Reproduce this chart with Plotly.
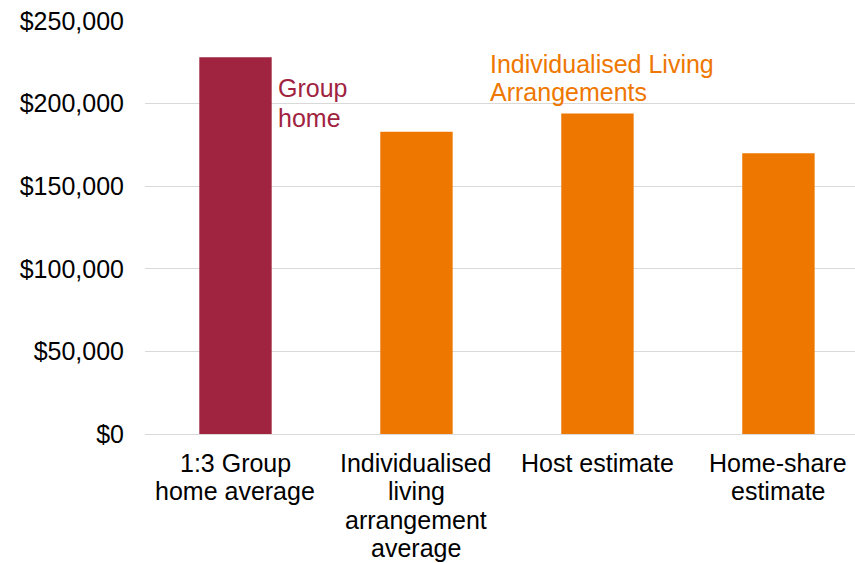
import plotly.graph_objects as go

# Annual cost per person by support model
categories = [
    "1:3 Group home average",
    "Individualised living arrangement average",
    "Host estimate",
    "Home-share estimate",
]
category_lines = [
    ["1:3 Group", "home average"],
    ["Individualised", "living", "arrangement", "average"],
    ["Host estimate"],
    ["Home-share", "estimate"],
]
costs = [228000, 183000, 194000, 170000]
bar_colors = ["#A0233F", "#EE7700", "#EE7700", "#EE7700"]

y_ticks = [0, 50000, 100000, 150000, 200000, 250000]
y_tick_text = ["$0", "$50,000", "$100,000", "$150,000", "$200,000", "$250,000"]

FONT = "Liberation Sans, Arial, sans-serif"
CRIMSON = "#A0233F"
ORANGE = "#EE7700"

fig = go.Figure(
    go.Bar(
        x=list(range(len(categories))),
        y=costs,
        width=0.4,
        marker=dict(color=bar_colors, line=dict(width=0)),
        hovertext=categories,
        hoverinfo="text+y",
    )
)

annotations = []
# multi-line category labels under each bar, with tight line spacing
for i, lines in enumerate(category_lines):
    for j, line in enumerate(lines):
        annotations.append(dict(
            x=i, xref="x", y=0, yref="paper",
            text=line, showarrow=False,
            xanchor="center", yanchor="middle",
            yshift=-29 - 28.3 * j,
            font=dict(family=FONT, size=25, color="#000000"),
        ))

# group labels
for j, line in enumerate(["Group", "home"]):
    annotations.append(dict(
        x=0.2, xref="x", y=1, yref="paper",
        text=line, showarrow=False,
        xanchor="left", yanchor="middle",
        xshift=4, yshift=-67 - 30 * j,
        font=dict(family=FONT, size=25, color=CRIMSON),
    ))
for j, line in enumerate(["Individualised Living", "Arrangements"]):
    annotations.append(dict(
        x=1.5, xref="x", y=1, yref="paper",
        text=line, showarrow=False,
        xanchor="left", yanchor="middle",
        xshift=-19, yshift=-42.6 - 28.7 * j,
        font=dict(family=FONT, size=25, color=ORANGE),
    ))

fig.update_layout(
    width=855,
    height=563,
    margin=dict(l=145, r=0, t=21, b=129),
    paper_bgcolor="white",
    plot_bgcolor="white",
    showlegend=False,
    font=dict(family=FONT, size=25, color="#000000"),
    annotations=annotations,
    xaxis=dict(
        range=[-0.5, 3.423],
        showticklabels=False,
        showgrid=False,
        zeroline=False,
        showline=False,
        ticks="",
    ),
    yaxis=dict(
        range=[0, 250000],
        tickvals=y_ticks,
        ticktext=y_tick_text,
        showgrid=True,
        gridcolor="#D9D9D9",
        gridwidth=1,
        zeroline=True,
        zerolinecolor="#D9D9D9",
        zerolinewidth=1,
        showline=False,
        ticks="",
        ticklabelstandoff=20,
        tickfont=dict(family=FONT, size=25, color="#000000"),
    ),
)

fig.write_html("out.html")
